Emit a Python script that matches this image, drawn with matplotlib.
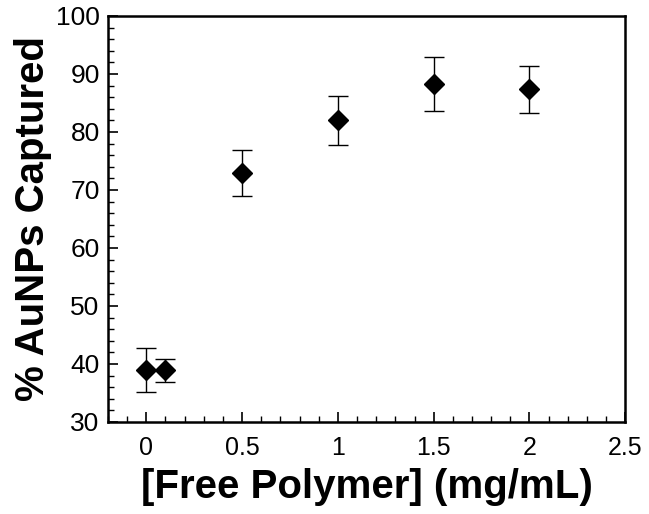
import matplotlib
matplotlib.use('Agg')
import matplotlib.pyplot as plt
from matplotlib.ticker import MultipleLocator

plt.rcParams['font.family'] = ['Liberation Sans', 'DejaVu Sans']

conc = [0, 0.1, 0.5, 1.0, 1.5, 2.0]
captured = [38.9, 38.9, 72.9, 82.0, 88.3, 87.4]
err = [3.8, 2.0, 4.0, 4.2, 4.7, 4.05]

fig = plt.figure(figsize=(6.49, 5.14), dpi=100)
ax = fig.add_axes([0.1664, 0.179, 0.797, 0.790])

ax.errorbar(conc, captured, yerr=err, fmt='D', color='black', markersize=10.5,
            ecolor='black', elinewidth=1, capsize=7, capthick=1)

ax.set_xlim(-0.2, 2.5)
ax.set_ylim(30, 100)
ax.xaxis.set_minor_locator(MultipleLocator(0.1))
ax.yaxis.set_major_locator(MultipleLocator(10))
ax.yaxis.set_minor_locator(MultipleLocator(2))
ax.set_xticks([0, 0.5, 1, 1.5, 2, 2.5])
ax.set_xticklabels(['0', '0.5', '1', '1.5', '2', '2.5'])

ax.tick_params(which='both', direction='in', top=False, right=False)
ax.tick_params(axis='x', labelsize=18, pad=10)
ax.tick_params(axis='y', labelsize=19, pad=6)
ax.tick_params(which='major', length=7, width=1.2)
ax.tick_params(which='minor', length=4, width=1)
for s in ax.spines.values():
    s.set_linewidth(1.8)

ax.set_xlabel('[Free Polymer] (mg/mL)', fontsize=29, fontweight='bold', labelpad=6)
ax.set_ylabel('% AuNPs Captured', fontsize=29, fontweight='bold', labelpad=3)

plt.savefig('out.png', dpi=100)
